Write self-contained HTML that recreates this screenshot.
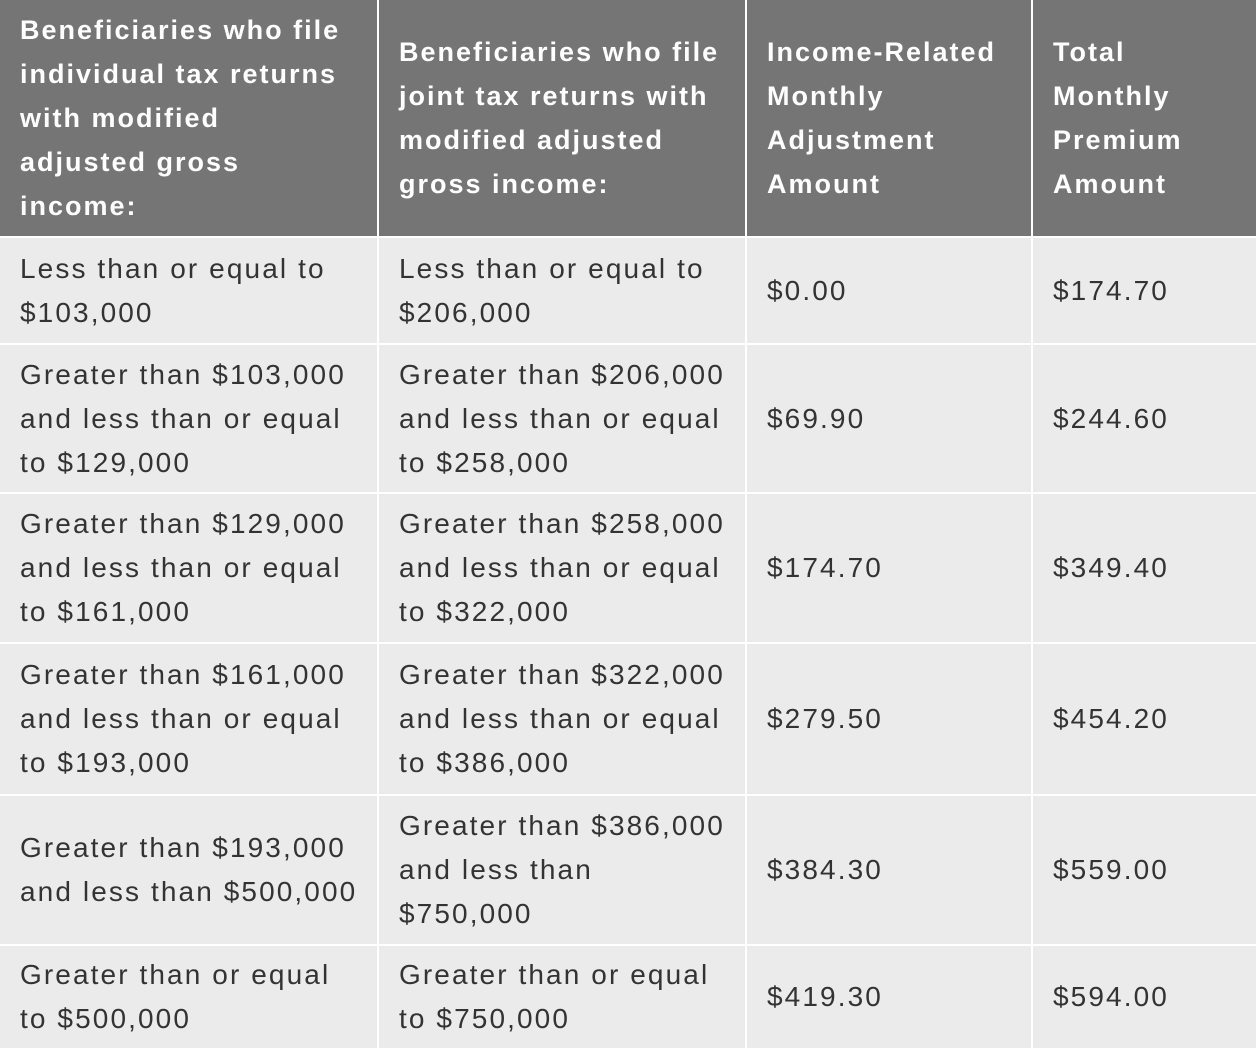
<!DOCTYPE html>
<html><head><style>
body{margin:0;width:1256px;height:1048px;background:#fff;overflow:hidden;font-family:"Liberation Sans",sans-serif;}
.c{position:absolute;display:flex;align-items:center;box-sizing:border-box;padding-left:20px;font-size:28px;line-height:44px;color:#333;background:#ebebeb;letter-spacing:2.1px;white-space:nowrap}
.h{background:#757575;color:#fff;font-weight:bold;font-size:27px;letter-spacing:2px}
</style></head><body>
<div class="c h" style="left:0;top:0;width:377px;height:236px">Beneficiaries who file<br>individual tax returns<br>with modified<br>adjusted gross<br>income:</div>
<div class="c h" style="left:379px;top:0;width:366px;height:236px">Beneficiaries who file<br>joint tax returns with<br>modified adjusted<br>gross income:</div>
<div class="c h" style="left:747px;top:0;width:284px;height:236px">Income-Related<br>Monthly<br>Adjustment<br>Amount</div>
<div class="c h" style="left:1033px;top:0;width:223px;height:236px">Total<br>Monthly<br>Premium<br>Amount</div>

<div class="c" style="left:0;top:238px;width:377px;height:105px">Less than or equal to<br>$103,000</div>
<div class="c" style="left:379px;top:238px;width:366px;height:105px">Less than or equal to<br>$206,000</div>
<div class="c" style="left:747px;top:238px;width:284px;height:105px">$0.00</div>
<div class="c" style="left:1033px;top:238px;width:223px;height:105px">$174.70</div>

<div class="c" style="left:0;top:345px;width:377px;height:147px">Greater than $103,000<br>and less than or equal<br>to $129,000</div>
<div class="c" style="left:379px;top:345px;width:366px;height:147px">Greater than $206,000<br>and less than or equal<br>to $258,000</div>
<div class="c" style="left:747px;top:345px;width:284px;height:147px">$69.90</div>
<div class="c" style="left:1033px;top:345px;width:223px;height:147px">$244.60</div>

<div class="c" style="left:0;top:494px;width:377px;height:148px">Greater than $129,000<br>and less than or equal<br>to $161,000</div>
<div class="c" style="left:379px;top:494px;width:366px;height:148px">Greater than $258,000<br>and less than or equal<br>to $322,000</div>
<div class="c" style="left:747px;top:494px;width:284px;height:148px">$174.70</div>
<div class="c" style="left:1033px;top:494px;width:223px;height:148px">$349.40</div>

<div class="c" style="left:0;top:644px;width:377px;height:150px">Greater than $161,000<br>and less than or equal<br>to $193,000</div>
<div class="c" style="left:379px;top:644px;width:366px;height:150px">Greater than $322,000<br>and less than or equal<br>to $386,000</div>
<div class="c" style="left:747px;top:644px;width:284px;height:150px">$279.50</div>
<div class="c" style="left:1033px;top:644px;width:223px;height:150px">$454.20</div>

<div class="c" style="left:0;top:796px;width:377px;height:148px">Greater than $193,000<br>and less than $500,000</div>
<div class="c" style="left:379px;top:796px;width:366px;height:148px">Greater than $386,000<br>and less than<br>$750,000</div>
<div class="c" style="left:747px;top:796px;width:284px;height:148px">$384.30</div>
<div class="c" style="left:1033px;top:796px;width:223px;height:148px">$559.00</div>

<div class="c" style="left:0;top:946px;width:377px;height:102px">Greater than or equal<br>to $500,000</div>
<div class="c" style="left:379px;top:946px;width:366px;height:102px">Greater than or equal<br>to $750,000</div>
<div class="c" style="left:747px;top:946px;width:284px;height:102px">$419.30</div>
<div class="c" style="left:1033px;top:946px;width:223px;height:102px">$594.00</div>
</body></html>
